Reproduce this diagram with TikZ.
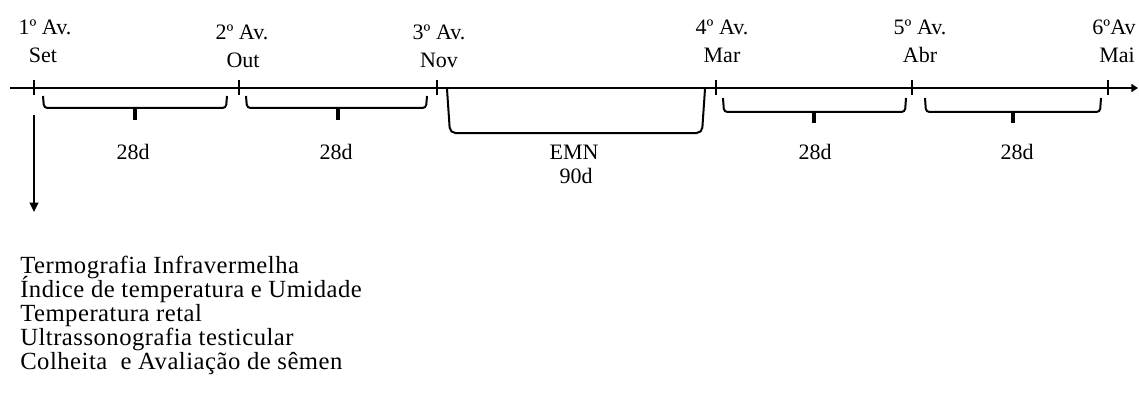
\documentclass[tikz,border=0pt]{standalone}
\usepackage{fontspec}
\setmainfont{Liberation Serif}
\usetikzlibrary{arrows.meta}

\newcommand{\listafont}{\fontsize{18.5}{18}\selectfont\addfontfeatures{LetterSpace=2}\lineskiplimit=-20pt\relax}

\begin{document}
\begin{tikzpicture}[x=0.75pt, y=-0.75pt,
  every node/.style={font=\fontsize{16.5}{18}\selectfont, inner sep=0pt, anchor=base},
  axis/.style={line width=1.8pt},
  tick/.style={line width=1.5pt},
  brace/.style={line width=1.5pt, rounded corners=2.5pt},
  bracetip/.style={line width=2.6pt}]
  \useasboundingbox (0,0) rectangle (1139,403);

  % Linha do tempo
  \coordinate (ini) at (10,88);
  \coordinate (fim) at (1138,88);
  \draw[axis, -{Triangle[length=5pt, width=6pt]}] (ini) -- (fim);

  % Marcas das avaliacoes
  \draw[tick] (34,80) -- (34,95);
  \draw[tick] (239,80) -- (239,95);
  \draw[tick] (437,80) -- (437,95);
  \draw[tick] (716,80) -- (716,95);
  \draw[tick] (912,80) -- (912,95);
  \draw[tick] (1108,80) -- (1108,95);

  % Rotulos das avaliacoes
  \node (av1) at (45,35) {1º Av.};
  \node (mes1) at (43,63) {Set};
  \node (av2) at (242,40) {2º Av.};
  \node (mes2) at (243,68) {Out};
  \node (av3) at (439,40) {3º Av.};
  \node (mes3) at (439,68) {Nov};
  \node (av4) at (722,35) {4º Av.};
  \node (mes4) at (722,63) {Mar};
  \node (av5) at (920,35) {5º Av.};
  \node (mes5) at (920,63) {Abr};
  \node (av6) at (1114,35) {6ºAv};
  \node (mes6) at (1117,63) {Mai};

  % Chaves de intervalo
  \draw[brace] (43,96) -- (44,108) -- (226,108) -- (227,96);
  \draw[bracetip] (135,107) -- (135,120);
  \draw[brace] (246,96) -- (247,108) -- (426,108) -- (427,96);
  \draw[bracetip] (338,107) -- (338,120);
  \draw[brace, rounded corners=4pt] (447,89) -- (450,133) -- (702,133) -- (705,89);
  \draw[brace] (723,98) -- (724,112) -- (905,112) -- (906,98);
  \draw[bracetip] (814,111) -- (814,123);
  \draw[brace] (925,98) -- (926,112) -- (1100,112) -- (1101,98);
  \draw[bracetip] (1013,111) -- (1013,123);

  % Duracoes
  \node (d1) at (133,159) {28d};
  \node (d2) at (336,159) {28d};
  \node (emn) at (574,159) {EMN};
  \node (d3) at (576,183) {90d};
  \node (d4) at (815,159) {28d};
  \node (d5) at (1017,159) {28d};

  % Medidas da primeira avaliacao
  \coordinate (seta) at (34,115);
  \coordinate (alvo) at (34,212);
  \draw[line width=1.5pt, -{Triangle[length=7pt, width=6.5pt]}] (seta) -- (alvo);
  \node[anchor=north west, align=left, font=\listafont] (medidas) at (20,256)
    {Termografia Infravermelha\\
     Índice de temperatura e Umidade\\
     Temperatura retal\\
     Ultrassonografia testicular\\
     Colheita\ \ e Avaliação de sêmen};
\end{tikzpicture}
\end{document}
